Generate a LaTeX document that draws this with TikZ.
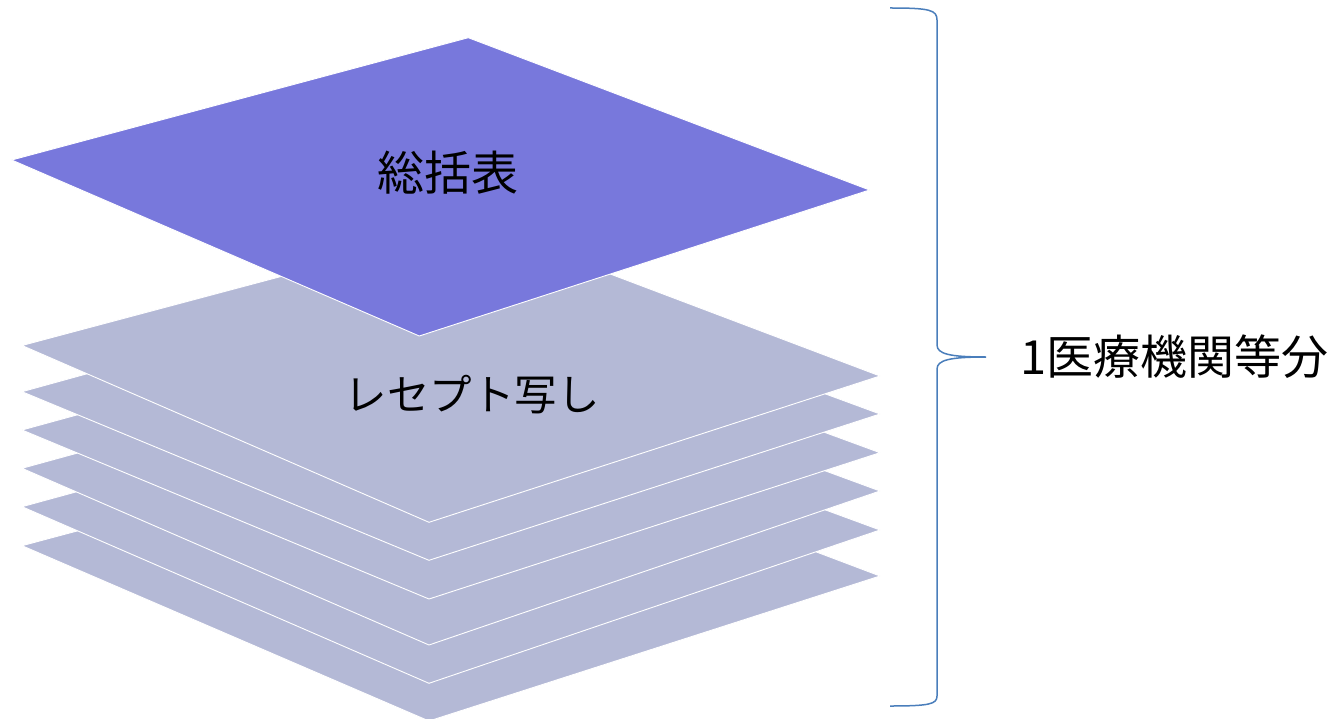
\documentclass[tikz,border=0pt]{standalone}
\usepackage{fontspec}
\newfontfamily\jpfont{Noto Sans CJK JP}
\definecolor{sheetcol}{RGB}{180,185,214}
\definecolor{topcol}{RGB}{120,120,220}
\definecolor{bracecol}{RGB}{74,126,187}
\tikzset{
  sheet/.style={fill=sheetcol, draw=white, line width=0.9pt, line join=miter},
  topsheet/.style={fill=topcol, draw=white, line width=0.9pt},
  lbl/.style={font=\jpfont\fontsize{47}{54}\selectfont, text=black, inner sep=0pt},
  kanalbl/.style={font=\jpfont\fontsize{42.5}{50}\selectfont, text=black, inner sep=0pt},
  bracestyle/.style={draw=bracecol, line width=1.5pt}
}
\begin{document}
\begin{tikzpicture}[x=1pt,y=-1pt]
\useasboundingbox (0,0) rectangle (1340,719);
\begin{scope}
\clip (0,0) rectangle (1340,719);
% sheets bottom to top
\draw[sheet] (478,424) -- (880,576) -- (429,721) -- (22,545.7) -- cycle;
\draw[sheet] (478,382) -- (880,530) -- (429,683.3) -- (22,506.7) -- cycle;
\draw[sheet] (478,343) -- (880,491) -- (429,645) -- (22,468.3) -- cycle;
\draw[sheet] (478,305) -- (880,452.7) -- (429,599) -- (22,430) -- cycle;
\draw[sheet] (478,266) -- (880,414) -- (429,560.3) -- (22,391.7) -- cycle;
\draw[sheet] (478,224) -- (880,376) -- (429,522.3) -- (22,345.5) -- cycle;
\draw[topsheet] (468.3,37.7) -- (869.5,190) -- (419.3,336) -- (11.7,160) -- cycle;
\end{scope}
\node[lbl] (summary) at (447.5,173) {総括表};
\node[kanalbl] (copies) at (472,395) {レセプト写し};
\node[lbl, anchor=west] (unit) at (1020,357) {1医療機関等分};
\coordinate (btop) at (890,8);
\coordinate (btip) at (986,357);
\coordinate (bbot) at (890,706);
\draw[bracestyle] (btop) .. controls (930,8) and (937,10) .. (937,20) -- (937,345)
  .. controls (937,354) and (950,357) .. (btip)
  .. controls (950,357) and (937,360) .. (937,369) -- (937,696)
  .. controls (937,704) and (930,706) .. (bbot);
\end{tikzpicture}
\end{document}
